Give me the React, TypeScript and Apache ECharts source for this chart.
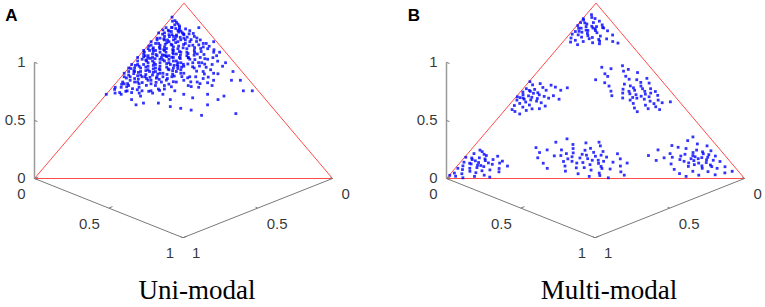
import React, { useEffect, useRef } from "react";
import * as echarts from "echarts";

// ---------- data ----------
const panelLabels = ["A", "B"];
const panelTitles = ["Uni-modal", "Multi-modal"];
const tickValues = [0, 0.5, 1];
const tickLabels = ["0", "0.5", "1"];

// Simplex points stored as [x, z]; y = 1 - x - z
const uniModal: number[][] = [
  [0.01,0.86],[0.03,0.84],[0.02,0.80],[0.05,0.82],[0.00,0.78],[0.04,0.76],[0.07,0.79],[0.01,0.74],[0.06,0.72],[0.03,0.70],
  [0.09,0.75],[0.02,0.68],[0.05,0.66],[0.08,0.69],[0.00,0.65],[0.11,0.71],[0.04,0.63],[0.07,0.62],[0.10,0.64],[0.01,0.61],
  [0.13,0.67],[0.03,0.58],[0.06,0.59],[0.09,0.57],[0.12,0.60],[0.02,0.55],[0.15,0.63],[0.08,0.54],[0.11,0.56],[0.05,0.53],
  [0.14,0.58],[0.17,0.61],[0.04,0.88],[0.02,0.90],[0.06,0.85],[0.08,0.83],[0.10,0.80],[0.12,0.77],[0.14,0.74],[0.16,0.70],
  [0.00,0.83],[0.01,0.71],[0.03,0.77],[0.05,0.74],[0.07,0.73],[0.09,0.70],[0.11,0.68],[0.13,0.65],[0.15,0.66],[0.18,0.64],
  [0.02,0.63],[0.04,0.67],[0.06,0.64],[0.08,0.61],[0.10,0.59],[0.12,0.54],[0.16,0.57],[0.19,0.60],[0.01,0.58],[0.03,0.52],
  [0.00,0.69],[0.02,0.73],[0.04,0.71],[0.06,0.78],[0.08,0.76],[0.10,0.73],[0.12,0.71],[0.05,0.69],[0.07,0.66],[0.09,0.63],
  [0.11,0.62],[0.13,0.60],[0.15,0.55],[0.17,0.58],[0.03,0.61],[0.05,0.57],[0.07,0.55],[0.09,0.52],[0.11,0.50],[0.02,0.65],
  [0.01,0.76],[0.03,0.81],[0.05,0.79],[0.07,0.81],[0.09,0.78],[0.04,0.73],[0.06,0.70],[0.08,0.72],[0.10,0.67],[0.12,0.66],
  [0.14,0.69],[0.16,0.66],[0.00,0.73],[0.02,0.77],[0.04,0.79],[0.06,0.75],[0.08,0.65],[0.10,0.61],[0.14,0.62],[0.18,0.68],
  [0.01,0.67],[0.03,0.64],[0.05,0.61],[0.07,0.58],[0.09,0.66],[0.11,0.74],[0.13,0.72],[0.15,0.76],[0.17,0.73],[0.00,0.60],
  [0.02,0.59],[0.04,0.56],[0.06,0.55],[0.08,0.58],[0.10,0.56],[0.12,0.58],[0.14,0.53],[0.16,0.51],[0.06,0.50],[0.03,0.54],
  [0.01,0.80],[0.03,0.86],[0.05,0.87],[0.07,0.84],[0.09,0.82],[0.11,0.79],[0.13,0.78],[0.02,0.83],[0.04,0.82],[0.06,0.81],
  [0.00,0.63],[0.02,0.70],[0.04,0.65],[0.06,0.67],[0.08,0.68],[0.10,0.70],[0.12,0.69],[0.14,0.67],[0.16,0.64],[0.18,0.62],
  [0.015,0.79],[0.025,0.745],[0.035,0.725],[0.045,0.685],[0.055,0.765],[0.065,0.735],[0.075,0.705],[0.085,0.775],[0.095,0.735],[0.105,0.755],
  [0.005,0.755],[0.015,0.645],[0.025,0.615],[0.035,0.675],[0.045,0.605],[0.055,0.635],[0.065,0.615],[0.075,0.645],[0.085,0.625],[0.095,0.605],
  [0.115,0.655],[0.125,0.635],[0.135,0.625],[0.145,0.645],[0.155,0.615],[0.165,0.595],[0.175,0.635],[0.105,0.625],[0.115,0.595],[0.135,0.565],
  [0.025,0.845],[0.045,0.855],[0.065,0.835],[0.085,0.805],[0.105,0.825],[0.035,0.795],[0.055,0.775],[0.075,0.765],[0.095,0.695],[0.125,0.745],
  [0.006,0.847],[0.017,0.823],[0.028,0.861],[0.039,0.838],[0.047,0.809],[0.058,0.844],[0.066,0.818],[0.073,0.796],[0.087,0.824],[0.094,0.791],
  [0.108,0.806],[0.117,0.764],[0.128,0.792],[0.139,0.757],[0.152,0.781],[0.163,0.746],[0.007,0.721],[0.018,0.694],[0.027,0.738],[0.036,0.686],
  [0.044,0.748],[0.053,0.707],[0.062,0.683],[0.071,0.741],[0.083,0.702],[0.091,0.677],[0.104,0.718],[0.114,0.691],[0.123,0.724],[0.137,0.703],
  [0.146,0.684],[0.158,0.712],[0.171,0.688],[0.183,0.703],[0.009,0.627],[0.021,0.573],[0.033,0.598],[0.041,0.541],[0.052,0.586],[0.064,0.567],
  [0.076,0.593],[0.087,0.547],[0.098,0.577],[0.109,0.531],[0.122,0.572],[0.133,0.548],[0.147,0.593],[0.161,0.561],[0.176,0.584],[0.189,0.552],
  [0.013,0.897],[0.031,0.876],[0.054,0.862],[0.079,0.853],[0.098,0.843],[0.118,0.827],[0.143,0.801],[0.169,0.762],[0.196,0.724],[0.214,0.707],
  [0.229,0.683],[0.244,0.652],[0.211,0.637],[0.237,0.612],[0.258,0.634],[0.271,0.596],[0.226,0.574],[0.248,0.551],[0.263,0.524],[0.284,0.541],
  [0.203,0.581],[0.197,0.523],[0.181,0.538],[0.168,0.502],[0.152,0.487],[0.134,0.497],[0.107,0.487],[0.091,0.506],[0.072,0.512],[0.047,0.523],
  [0.023,0.537],[0.014,0.508],[0.026,0.487],[0.057,0.497],[0.293,0.578],[0.307,0.546],[0.316,0.597],[0.279,0.669],[0.253,0.689],[0.234,0.734],
  [0.208,0.754],[0.186,0.741],[0.177,0.718],[0.198,0.678],[0.219,0.661],[0.232,0.641],[0.187,0.653],[0.173,0.651],[0.166,0.627],[0.154,0.648],
  [0.20,0.66],[0.22,0.63],[0.19,0.71],[0.21,0.74],[0.24,0.68],[0.23,0.58],[0.26,0.61],[0.20,0.55],[0.25,0.53],[0.28,0.57],
  [0.18,0.77],[0.21,0.69],[0.27,0.65],[0.30,0.60],[0.22,0.50],[0.26,0.48],[0.19,0.48],[0.17,0.53],[0.24,0.72],[0.29,0.52],
  [0.31,0.64],[0.20,0.60],[0.23,0.66],[0.17,0.69],[0.15,0.72],[0.13,0.81],[0.16,0.79],[0.19,0.75],[0.22,0.56],[0.18,0.51],
  [0.25,0.58],[0.27,0.55],[0.14,0.50],[0.12,0.47],[0.08,0.49],[0.05,0.48],[0.21,0.78],[0.28,0.62],[0.32,0.56],[0.26,0.70],
  [0.00,0.92],[0.03,0.89],[0.12,0.86],[0.19,0.77],[0.26,0.72],[0.31,0.66],[0.41,0.56],[0.38,0.56],[0.48,0.50],[0.45,0.50],
  [0.40,0.47],[0.39,0.45],[0.37,0.42],[0.38,0.36],[0.33,0.39],[0.49,0.37],[0.13,0.42],[0.15,0.43],[0.20,0.43],[0.25,0.41],
  [0.29,0.40],[0.00,0.48],[0.01,0.52],[0.04,0.49],[0.34,0.48],[0.36,0.61],[0.33,0.53],[0.30,0.46],[0.23,0.45],[0.10,0.45],
];

const clusterTop: number[][] = [
  [0.018,0.934],[0.041,0.912],[0.007,0.903],[0.063,0.897],[0.029,0.881],[0.052,0.868],[0.083,0.876],[0.003,0.872],[0.022,0.857],[0.071,0.853],
  [0.044,0.846],[0.097,0.858],[0.012,0.838],[0.058,0.827],[0.031,0.819],[0.088,0.831],[0.118,0.842],[0.049,0.806],[0.079,0.797],[0.016,0.801],
  [0.109,0.812],[0.037,0.788],[0.067,0.781],[0.138,0.796],[0.102,0.774],[0.057,0.763],[0.128,0.768],[0.166,0.781],[0.188,0.772],[0.027,0.918],
  [0.002,0.911],[0.047,0.889],[0.069,0.866],[0.092,0.861],[0.019,0.887],[0.036,0.834],[0.061,0.858],[0.077,0.843],[0.009,0.823],[0.113,0.793],
  [0.147,0.818],[0.026,0.778],[0.086,0.804],[0.121,0.783],[0.004,0.889],[0.034,0.866],[0.014,0.856],[0.051,0.844],[0.024,0.839],[0.066,0.814],
];
const clusterMidLeft: number[][] = [
  [0.003,0.552],[0.021,0.534],[0.043,0.541],[0.011,0.512],[0.032,0.497],[0.063,0.519],[0.048,0.486],[0.017,0.478],[0.082,0.503],[0.004,0.466],
  [0.039,0.471],[0.072,0.477],[0.027,0.459],[0.058,0.448],[0.093,0.468],[0.012,0.447],[0.047,0.436],[0.081,0.441],[0.113,0.458],[0.031,0.428],
  [0.068,0.419],[0.101,0.432],[0.019,0.416],[0.052,0.407],[0.124,0.413],[0.088,0.397],[0.038,0.382],[0.073,0.388],[0.104,0.521],[0.131,0.503],
  [0.146,0.517],[0.122,0.472],[0.151,0.452],[0.112,0.398],[0.061,0.368],[0.023,0.393],[0.084,0.532],[0.009,0.493],[0.041,0.508],[0.061,0.489],
  [0.026,0.502],[0.054,0.463],[0.016,0.461],[0.034,0.452],[0.076,0.456],
];
const clusterMidRight: number[][] = [
  [0.203,0.634],[0.268,0.643],[0.232,0.597],[0.287,0.612],[0.218,0.563],[0.309,0.583],[0.257,0.546],[0.338,0.604],[0.281,0.527],[0.356,0.563],
  [0.327,0.538],[0.386,0.571],[0.302,0.498],[0.368,0.517],[0.407,0.544],[0.347,0.487],[0.428,0.512],[0.379,0.503],[0.396,0.478],[0.452,0.496],
  [0.361,0.459],[0.418,0.469],[0.471,0.474],[0.392,0.447],[0.437,0.452],[0.486,0.447],[0.412,0.428],[0.458,0.418],[0.507,0.432],[0.429,0.402],
  [0.477,0.398],[0.518,0.393],[0.449,0.381],[0.497,0.409],[0.318,0.472],[0.249,0.582],[0.352,0.528],[0.377,0.548],[0.416,0.497],[0.441,0.487],
  [0.401,0.512],[0.373,0.483],[0.462,0.441],[0.329,0.566],[0.238,0.626],[0.298,0.622],[0.532,0.437],[0.482,0.427],[0.388,0.527],[0.337,0.509],
  [0.426,0.481],[0.393,0.462],[0.446,0.466],[0.363,0.497],[0.409,0.458],
];
const clusterLowLeft: number[][] = [
  [0.004,0.121],[0.021,0.142],[0.043,0.153],[0.012,0.093],[0.032,0.108],[0.051,0.118],[0.068,0.131],[0.019,0.072],[0.041,0.083],[0.062,0.091],
  [0.079,0.102],[0.102,0.108],[0.028,0.051],[0.049,0.058],[0.071,0.062],[0.091,0.068],[0.113,0.081],[0.134,0.088],[0.011,0.031],[0.038,0.027],
  [0.058,0.041],[0.082,0.033],[0.097,0.044],[0.121,0.049],[0.148,0.057],[0.169,0.071],[0.088,0.012],[0.117,0.019],[0.141,0.008],[0.024,0.013],
  [0.053,0.004],[0.031,0.162],[0.057,0.138],[0.009,0.058],[0.073,0.112],[0.108,0.127],[0.138,0.099],[0.157,0.038],[0.002,0.018],[0.078,0.074],
  [0.034,0.087],[0.046,0.101],[0.066,0.076],[0.026,0.117],[0.096,0.089],
];
const clusterLowMid: number[][] = [
  [0.212,0.176],[0.238,0.148],[0.263,0.207],[0.291,0.226],[0.247,0.118],[0.304,0.163],[0.327,0.194],[0.281,0.087],[0.318,0.131],[0.352,0.146],
  [0.366,0.203],[0.309,0.058],[0.344,0.097],[0.359,0.124],[0.386,0.138],[0.397,0.172],[0.423,0.186],[0.362,0.071],[0.393,0.088],[0.417,0.113],
  [0.436,0.127],[0.448,0.154],[0.378,0.042],[0.405,0.061],[0.442,0.079],[0.457,0.104],[0.476,0.122],[0.503,0.141],[0.428,0.027],[0.461,0.048],
  [0.484,0.069],[0.512,0.093],[0.527,0.112],[0.473,0.012],[0.497,0.031],[0.522,0.054],[0.548,0.071],[0.566,0.038],[0.587,0.019],[0.541,0.004],
  [0.403,0.133],[0.437,0.104],[0.351,0.112],[0.384,0.161],[0.467,0.086],[0.419,0.149],[0.372,0.098],[0.493,0.057],[0.331,0.142],[0.256,0.163],
  [0.389,0.117],[0.412,0.091],[0.452,0.133],[0.339,0.171],[0.297,0.129],[0.431,0.062],[0.478,0.098],[0.408,0.207],[0.506,0.017],[0.562,0.088],
];
const clusterLowRight: number[][] = [
  [0.628,0.163],[0.662,0.188],[0.701,0.216],[0.679,0.142],[0.718,0.171],[0.743,0.197],[0.652,0.103],[0.697,0.121],[0.731,0.138],[0.758,0.162],
  [0.781,0.186],[0.712,0.083],[0.748,0.098],[0.772,0.124],[0.791,0.141],[0.808,0.158],[0.738,0.052],[0.777,0.069],[0.802,0.088],[0.819,0.107],
  [0.838,0.128],[0.768,0.028],[0.806,0.041],[0.829,0.058],[0.847,0.077],[0.869,0.097],[0.798,0.012],[0.837,0.019],[0.858,0.039],[0.879,0.058],
  [0.901,0.067],[0.891,0.021],[0.918,0.032],[0.938,0.041],[0.688,0.178],[0.729,0.108],[0.761,0.131],[0.788,0.113],[0.821,0.072],[0.753,0.148],
  [0.797,0.119],[0.826,0.091],[0.779,0.102],[0.856,0.068],[0.722,0.128],[0.671,0.118],[0.768,0.089],[0.812,0.136],[0.708,0.237],[0.612,0.131],
  [0.783,0.152],[0.816,0.121],[0.792,0.079],[0.843,0.104],[0.764,0.113],
];
const multiModal: number[][] = [
  ...clusterTop, ...clusterMidLeft, ...clusterMidRight,
  ...clusterLowLeft, ...clusterLowMid, ...clusterLowRight,
];
const panelData = [uniModal, multiModal];

// ---------- view (orthographic projection of the 3-D axes box) ----------
const W = 765;
const H = 307;
const EX = [148.5, 59.2];
const EY = [-149.5, 59.2];
const EZ = [0, -116.2];
const ORIGINS = [[184, 119.3], [596, 119.3]];
const TITLE_POS = [[197, 290], [609, 290]];
const LETTER_POS = [[11.5, 15], [414, 15]];

function proj(p: number, x: number, y: number, z: number): number[] {
  const o = ORIGINS[p];
  return [
    o[0] + x * EX[0] + y * EY[0] + z * EZ[0],
    o[1] + x * EX[1] + y * EY[1] + z * EZ[1],
  ];
}

function seg(data: number[][], color: string, width: number) {
  return {
    type: "line",
    data,
    showSymbol: false,
    symbol: "none",
    clip: false,
    silent: true,
    lineStyle: { color, width },
    z: 2,
  };
}

function labels(pts: number[][], texts: string[], align: string, offset: number[]) {
  return {
    type: "scatter",
    data: pts.map((p, i) => ({ value: p, name: texts[i] })),
    symbolSize: 0,
    silent: true,
    clip: false,
    label: {
      show: true,
      position: "inside",
      formatter: (d: any) => d.name,
      align,
      verticalAlign: "middle",
      offset,
      color: "#000",
      fontSize: 15,
      lineHeight: 14,
      fontFamily: "Liberation Sans, Arial, sans-serif",
    },
  };
}

export default function App() {
  const ref = useRef<HTMLDivElement>(null);
  useEffect(() => {
    if (!ref.current) return;
    const chart = echarts.init(ref.current, undefined, { renderer: "svg" });
    const series: any[] = [];
    const graphics: any[] = [];
    for (let p = 0; p < 2; p++) {
      // red simplex triangle
      series.push(
        seg([proj(p, 0, 1, 0), proj(p, 1, 0, 0), proj(p, 0, 0, 1), proj(p, 0, 1, 0)], "#ff4a4a", 1)
      );
      // axes
      series.push(seg([proj(p, 0, 1, 0), proj(p, 0, 1, 1)], "#9a9a9a", 1.5));
      series.push(seg([proj(p, 0, 1, 0), proj(p, 1, 1, 0)], "#7a7a7a", 1));
      series.push(seg([proj(p, 1, 0, 0), proj(p, 1, 1, 0)], "#7a7a7a", 1));
      // ticks
      tickValues.forEach((t) => {
        series.push(seg([proj(p, 0, 1, t), proj(p, 0.02, 1, t)], "#7a7a7a", 1));
        series.push(seg([proj(p, t, 1, 0), proj(p, t, 0.975, 0)], "#7a7a7a", 1));
        series.push(seg([proj(p, 1, t, 0), proj(p, 0.985, t, 0)], "#7a7a7a", 1));
      });
      // tick labels
      series.push(labels(tickValues.map((t) => proj(p, 0, 1, t)), tickLabels, "right", [-9, -1]));
      series.push(labels(tickValues.map((t) => proj(p, t, 1, 0)), tickLabels, "right", [-9, 15]));
      series.push(labels(tickValues.map((t) => proj(p, 1, t, 0)), tickLabels, "left", [9, 15]));
      // points
      series.push({
        type: "scatter",
        data: panelData[p].map(([x, z]) => proj(p, x, 1 - x - z, z)),
        symbol: "rect",
        symbolSize: 2.8,
        silent: true,
        clip: false,
        itemStyle: { color: "#0000ff" },
        z: 3,
      });
      graphics.push({
        type: "text",
        x: TITLE_POS[p][0],
        y: TITLE_POS[p][1],
        style: {
          text: panelTitles[p],
          fill: "#000",
          fontSize: 27,
          fontFamily: "Liberation Serif, Times New Roman, serif",
          textAlign: "center",
          textVerticalAlign: "middle",
        },
      });
      graphics.push({
        type: "text",
        x: LETTER_POS[p][0],
        y: LETTER_POS[p][1],
        style: {
          text: panelLabels[p],
          fill: "#000",
          fontSize: 17,
          fontWeight: "bold",
          fontFamily: "Liberation Sans, Arial, sans-serif",
          textAlign: "center",
          textVerticalAlign: "middle",
        },
      });
    }
    chart.setOption({
      animation: false,
      backgroundColor: "#ffffff",
      grid: { left: 0, top: 0, width: W, height: H },
      xAxis: { type: "value", min: 0, max: W, show: false },
      yAxis: { type: "value", min: 0, max: H, inverse: true, show: false },
      series,
      graphic: graphics,
    });
    return () => chart.dispose();
  }, []);
  return (
    <div
      ref={ref}
      style={{ position: "absolute", left: 0, top: 0, width: W, height: H }}
    />
  );
}
